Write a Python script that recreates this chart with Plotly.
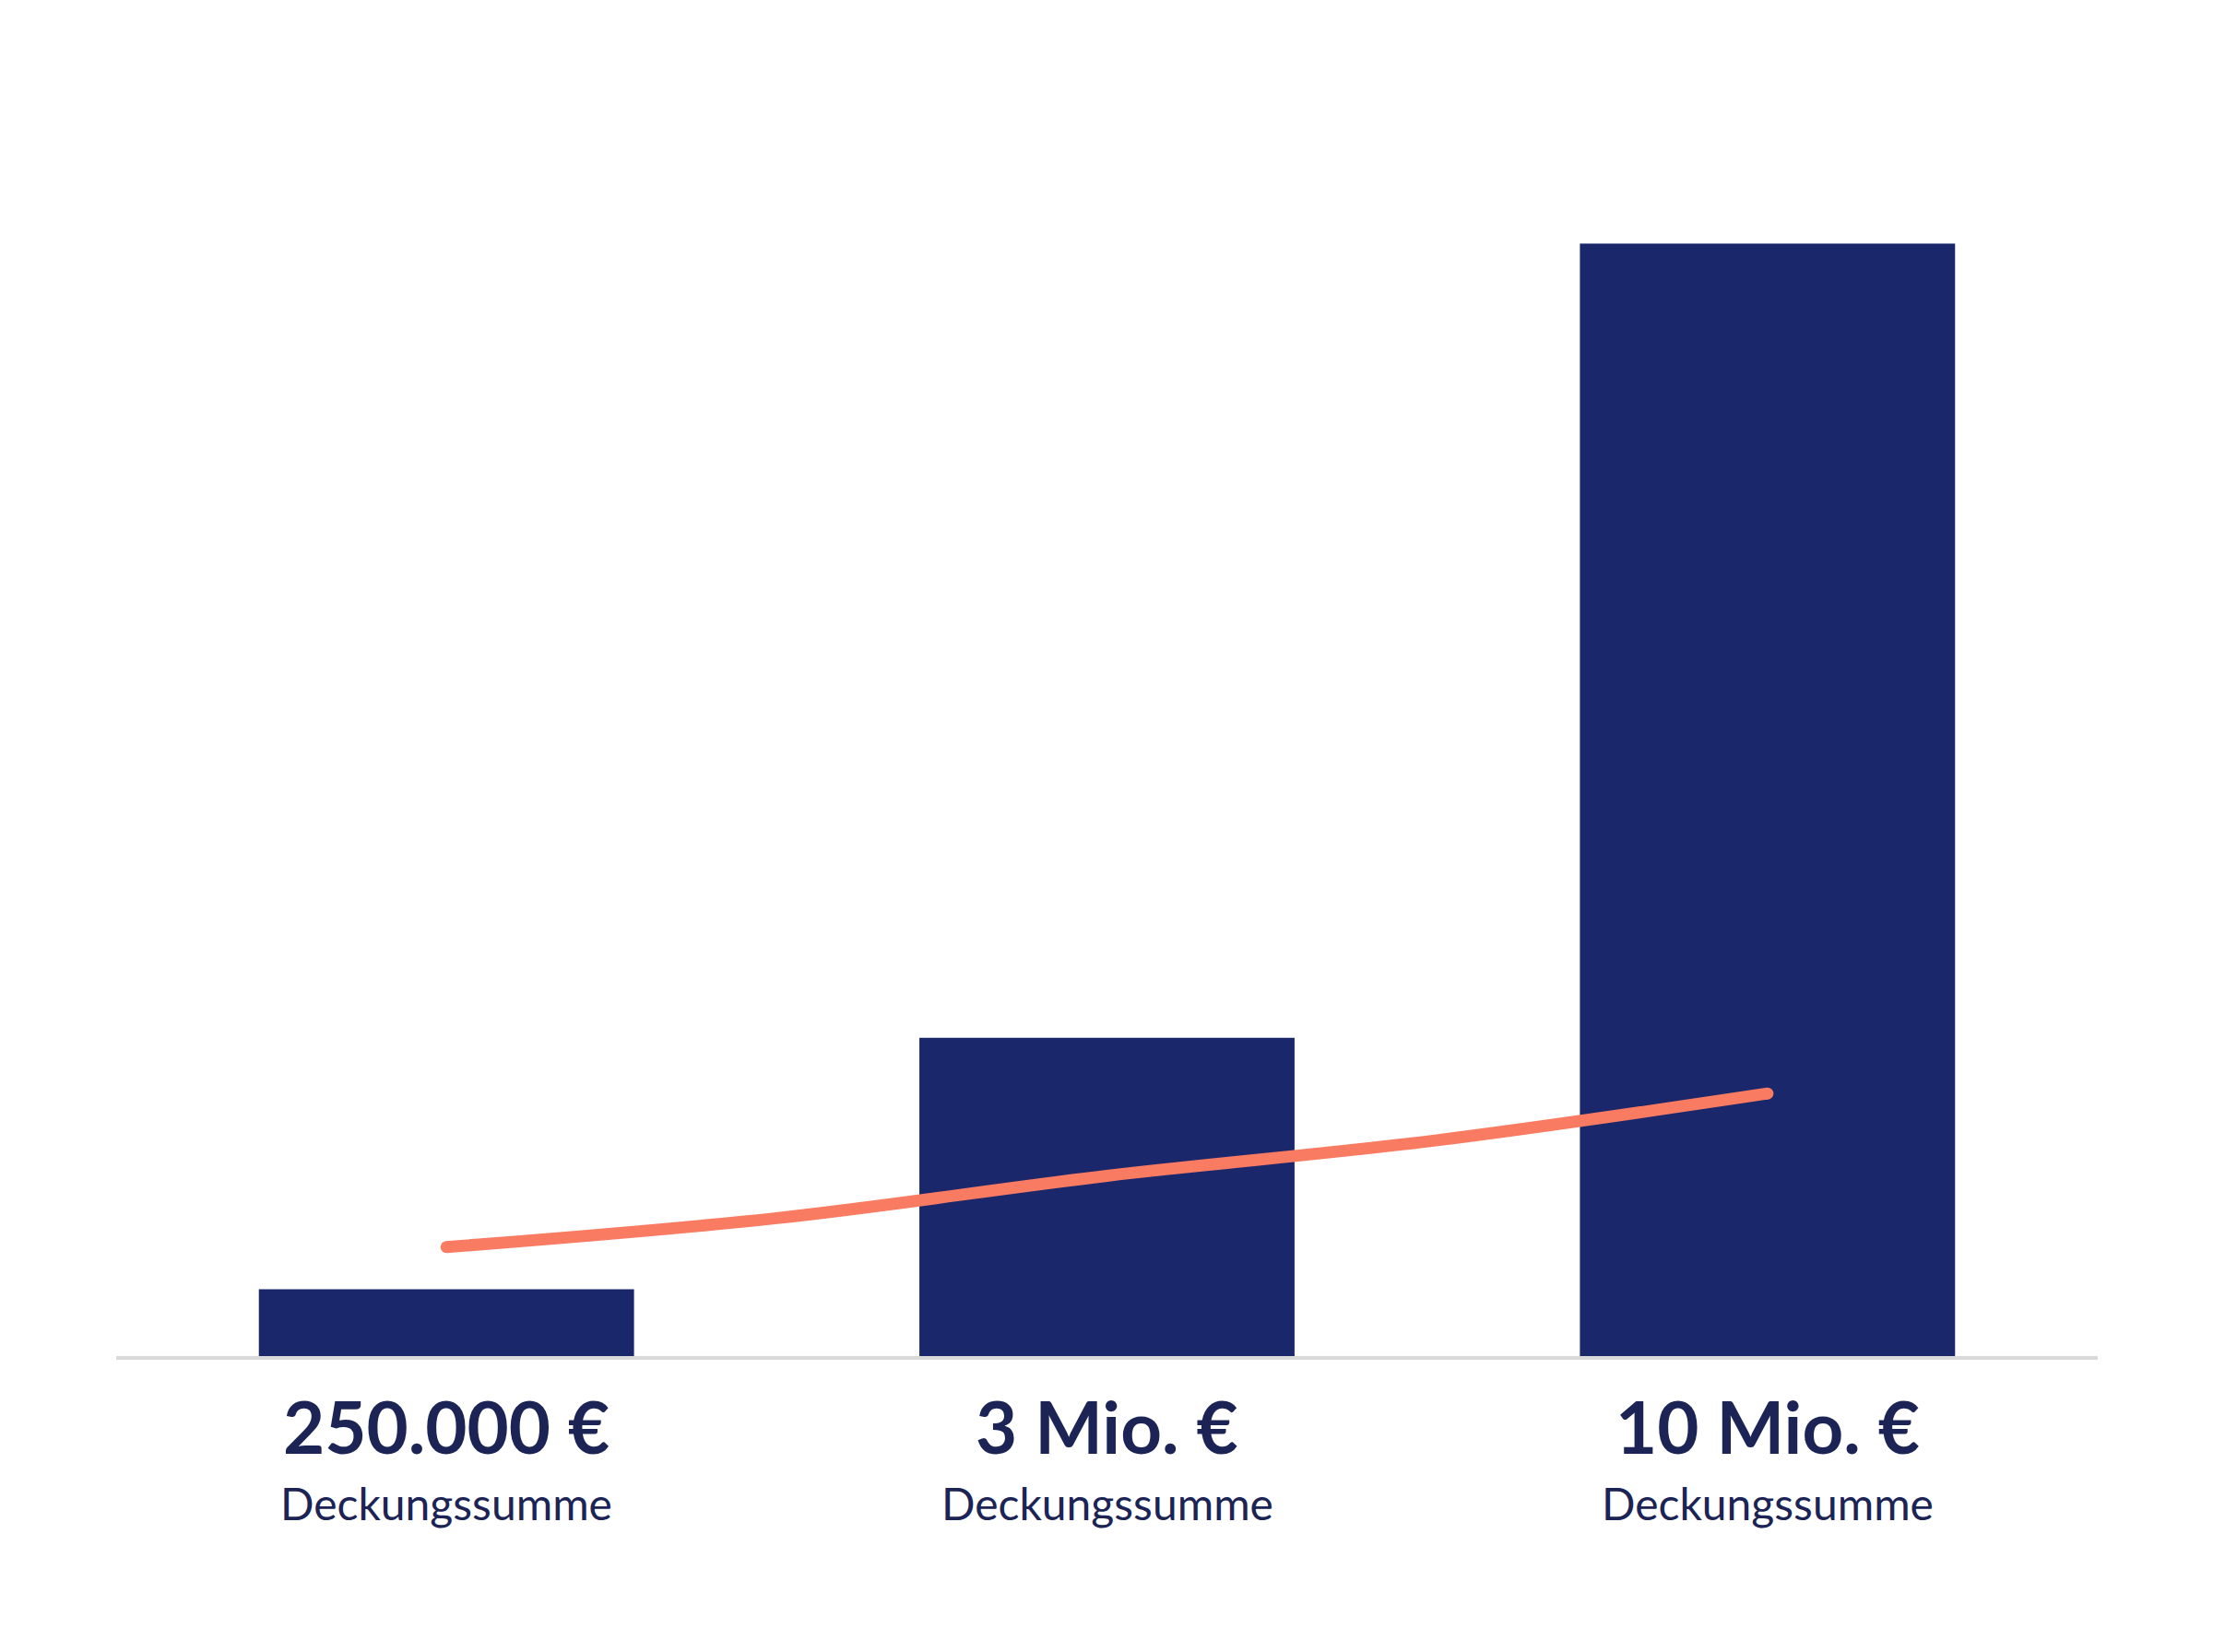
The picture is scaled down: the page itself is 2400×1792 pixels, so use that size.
import plotly.graph_objects as go

# categories / bar heights (relative, tallest bar = 100)
positions = [0, 1, 2]
amounts = ["250.000 €", "3 Mio. €", "10 Mio. €"]
subtitle = "Deckungssumme"
bar_heights = [6.0, 28.6, 100.0]

# orange trend curve, sampled along the category axis
curve_x = [0.0, 0.5, 1.0, 1.5, 2.0]
curve_y = [9.8, 12.4, 16.2, 19.4, 23.6]

navy = "#1B276B"
text_navy = "#1B2455"
salmon = "#F97B62"

fig = go.Figure()

fig.add_trace(go.Bar(
    x=positions,
    y=bar_heights,
    marker=dict(color=navy, line=dict(width=0)),
    width=0.568,
    hoverinfo="skip",
))

fig.add_trace(go.Scatter(
    x=curve_x,
    y=curve_y,
    mode="lines",
    line=dict(color=salmon, width=13, shape="spline", smoothing=1.0),
    hoverinfo="skip",
))
# round ends of the curve
fig.add_trace(go.Scatter(
    x=[curve_x[0], curve_x[-1]],
    y=[curve_y[0], curve_y[-1]],
    mode="markers",
    marker=dict(color=salmon, size=13, line=dict(width=0)),
    hoverinfo="skip",
))

# two-line labels under each bar
for p, a in zip(positions, amounts):
    fig.add_annotation(
        x=p, y=0, xref="x", yref="paper",
        text="<b>" + a + "</b>",
        showarrow=False, xanchor="center", yanchor="middle", yshift=-76,
        font=dict(family="Lato", size=78, color=text_navy),
    )
    fig.add_annotation(
        x=p, y=0, xref="x", yref="paper",
        text=subtitle,
        showarrow=False, xanchor="center", yanchor="middle", yshift=-159,
        font=dict(family="Lato", size=48, color=text_navy),
    )

fig.update_layout(
    width=2400,
    height=1792,
    margin=dict(l=118, r=133, t=92, b=329),
    paper_bgcolor="white",
    plot_bgcolor="white",
    showlegend=False,
    xaxis=dict(
        range=[-0.5, 2.5],
        showgrid=False, zeroline=False,
        showticklabels=False, ticks="",
        showline=True, linecolor="#D9D9D9", linewidth=4,
        layer="below traces",
    ),
    yaxis=dict(
        range=[0, 113.6],
        showgrid=False, zeroline=False,
        showticklabels=False, ticks="", showline=False,
    ),
)

fig.write_html("out.html")
